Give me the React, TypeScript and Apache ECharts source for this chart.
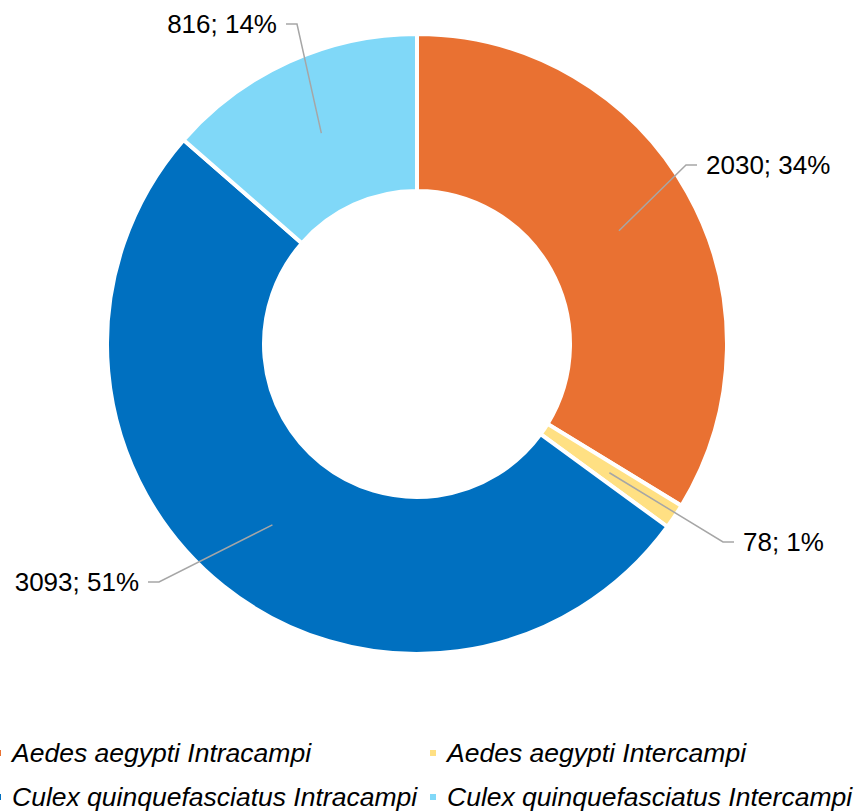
import { useEffect, useRef } from "react";
import * as echarts from "echarts";

const categories = [
  "Aedes aegypti Intracampi",
  "Aedes aegypti Intercampi",
  "Culex quinquefasciatus Intracampi",
  "Culex quinquefasciatus Intercampi",
];
const values = [2030, 78, 3093, 816];
const colors = ["#E97132", "#FFE083", "#0070C0", "#80D8F8"];

// layout constants (pixels)
const CX = 417;
const CY = 344;
const R_IN = 153;
const R_OUT = 310;
const R_LINE = 231.5;
// bend point of each leader line, relative to the centre
const labelBends = [
  [269, -179],
  [306, 198],
  [-258, 238],
  [-120, -320],
];

export default function App() {
  const ref = useRef<HTMLDivElement>(null);
  useEffect(() => {
    document.body.style.margin = "0";
    const chart = echarts.init(ref.current!, null, { renderer: "svg" });
    const donutData = categories.map((name, i) => ({
      name,
      value: values[i],
      itemStyle: { color: colors[i] },
    }));
    const labelData = categories.map((name, i) => ({
      name,
      value: values[i],
    }));
    const legendCommon = {
      orient: "vertical",
      top: 738,
      height: 100,
      padding: 0,
      icon: "rect",
      itemWidth: 8,
      itemHeight: 8,
      itemGap: 14,
      selectedMode: false,
      textStyle: {
        fontFamily: "Liberation Sans, Arial, sans-serif",
        fontStyle: "italic",
        fontSize: 26.5,
        lineHeight: 30,
        color: "#000",
        padding: [0, 0, 0, 5],
      },
    };
    const legendItem = (i: number) => ({
      name: categories[i],
      itemStyle: { color: colors[i] },
    });
    chart.setOption({
      animation: false,
      legend: [
        { ...legendCommon, left: -7, data: [legendItem(0), legendItem(2)] },
        { ...legendCommon, left: 428, data: [legendItem(1), legendItem(3)] },
      ],
      series: [
        {
          type: "pie",
          z: 2,
          center: [CX, CY],
          radius: [R_IN, R_OUT],
          startAngle: 90,
          clockwise: true,
          silent: true,
          emphasis: { disabled: true },
          itemStyle: { borderColor: "#ffffff", borderWidth: 4 },
          label: { show: false },
          labelLine: { show: false },
          data: donutData,
        },
        {
          type: "pie",
          z: 5,
          center: [CX, CY],
          radius: [0, R_LINE],
          startAngle: 90,
          clockwise: true,
          silent: true,
          avoidLabelOverlap: false,
          emphasis: { disabled: true },
          itemStyle: { color: "rgba(0,0,0,0)", borderWidth: 0 },
          label: {
            show: true,
            position: "outside",
            formatter: (p: any) => `${p.value}; ${Math.round(p.percent)}%`,
            fontFamily: "Liberation Sans, Arial, sans-serif",
            fontSize: 26,
            color: "#000",
          },
          labelLine: {
            show: true,
            showAbove: true,
            length: 20,
            length2: 10,
            lineStyle: { color: "#A6A6A6", width: 1.5 },
          },
          labelLayout: (p: any) => {
            const i = p.dataIndex;
            const pts = p.labelLinePoints;
            let sx = CX;
            let sy = CY;
            if (pts && pts.length) {
              const dx = pts[0][0] - CX;
              const dy = pts[0][1] - CY;
              const d = Math.hypot(dx, dy) || 1;
              sx = CX + (dx / d) * R_LINE;
              sy = CY + (dy / d) * R_LINE;
            }
            const [bx, by] = labelBends[i];
            const dir = bx < 0 ? -1 : 1;
            const bendX = CX + bx;
            const bendY = CY + by;
            const endX = bendX + dir * 11;
            return {
              x: endX + dir * 9,
              y: bendY,
              align: dir < 0 ? "right" : "left",
              verticalAlign: "middle",
              labelLinePoints: [
                [sx, sy],
                [bendX, bendY],
                [endX, bendY],
              ],
            };
          },
          data: labelData,
        },
      ],
    });
    return () => chart.dispose();
  }, []);
  return <div ref={ref} style={{ width: 857, height: 811 }} />;
}
